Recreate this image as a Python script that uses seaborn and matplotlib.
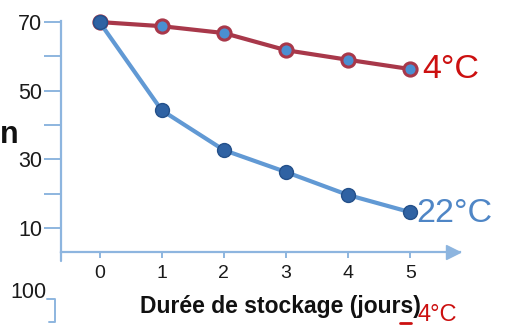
import matplotlib
matplotlib.use("Agg")
import matplotlib.pyplot as plt
import seaborn as sns
import pandas as pd
from matplotlib.lines import Line2D

# ---- data ----
days = [0, 1, 2, 3, 4, 5]
temp_4c = [70.0, 68.8, 66.8, 61.8, 59.0, 56.3]
temp_22c = [70.0, 44.3, 32.7, 26.3, 19.6, 14.6]
xtick_labels = ["0", "1", "2", "3", "4", "5"]
ytick_major = [10, 30, 50, 70]
ytick_minor = [20, 40, 60]
xlabel = "Durée de stockage (jours)"
label_4c = "4°C"
label_22c = "22°C"

sns.set_theme(style="white")
plt.rcParams["font.family"] = ["Liberation Sans", "DejaVu Sans"]

W, H = 509, 325
fig = plt.figure(figsize=(W / 100, H / 100), dpi=100)
left, right, top, bottom = 61, 460, 20, 252
ax = fig.add_axes([left / W, 1 - bottom / H, (right - left) / W, (bottom - top) / H])

axis_col = "#8db5df"
red_line = "#a8384a"
red_face = "#4a8fd2"
blue_line = "#6199d4"
blue_face = "#2f62a3"
blue_edge = "#24508a"

df_r = pd.DataFrame({"day": days, "val": temp_4c})
df_b = pd.DataFrame({"day": days, "val": temp_22c})

sns.lineplot(data=df_b, x="day", y="val", ax=ax, color=blue_line, lw=3.0,
             marker="o", markersize=10, markerfacecolor=blue_face,
             markeredgecolor=blue_edge, markeredgewidth=1.0, zorder=3,
             clip_on=False)
sns.lineplot(data=df_r, x="day", y="val", ax=ax, color=red_line, lw=3.0,
             marker="o", markersize=9.5, markerfacecolor=red_face,
             markeredgecolor=red_line, markeredgewidth=2.2, zorder=2,
             clip_on=False)
ax.lines[0].set_zorder(4)

ax.set_xlim(-0.62, 5.8)
ax.set_ylim(3, 70.6)

for s in ["top", "right"]:
    ax.spines[s].set_visible(False)
for s in ["left", "bottom"]:
    ax.spines[s].set_color(axis_col)
    ax.spines[s].set_linewidth(1.6)
ax.spines["left"].set_bounds(3, 70.3)

ax.set_xticks(days)
ax.set_xticklabels(xtick_labels)
ax.set_yticks(ytick_major)
ax.set_yticklabels([str(v) for v in ytick_major])
ax.set_yticks(ytick_minor, minor=True)
ax.tick_params(axis="y", which="both", length=12.5, width=1.4, color=axis_col,
               direction="out", left=True, labelsize=15.5, pad=1, labelcolor="#1a1a1a")
ax.tick_params(axis="x", which="major", length=4.5, width=1.4, color=axis_col,
               direction="out", bottom=True, labelsize=14, pad=5, labelcolor="#1a1a1a")
ax.set_xlabel(xlabel, fontsize=16.5, fontweight="bold", color="#111111")
ax.xaxis.set_label_coords(0.55, -0.185)
ax.set_ylabel("")
ax.grid(False)

# arrow head on x axis
ax.plot([0.982], [0], marker=">", markersize=10, color=axis_col,
        transform=ax.transAxes, clip_on=False)
# y axis extension below x axis
ax.add_line(Line2D([0, 0], [-0.04, 0], transform=ax.transAxes,
                   color=axis_col, lw=1.6, clip_on=False))

# series labels
ax.text(5.2, temp_4c[-1], label_4c, color="#cc1010", fontsize=24.5,
        va="center", ha="left")
ax.text(5.1, temp_22c[-1] - 0.3, label_22c, color="#4f86c6", fontsize=24.5,
        va="center", ha="left")

# cut-off y-label fragment
fig.text(0 / W, 1 - 135 / H, "n", fontsize=22, fontweight="bold",
         color="#111111", ha="left", va="center")

# fragments of the chart below
fig.text(46 / W, 1 - 293 / H, "100", fontsize=15.5, color="#1a1a1a",
         ha="right", va="center")
fig.add_artist(Line2D([47 / W, 55 / W, 55 / W, 49 / W],
                      [1 - 299 / H, 1 - 299 / H, 1 - 322 / H, 1 - 322 / H],
                      color=axis_col, lw=1.4))
fig.text(417 / W, 1 - 304 / H, "4°C", fontsize=17, color="#cc1010",
         ha="left", va="top")
fig.add_artist(Line2D([400 / W, 411 / W], [1 - 323 / H, 1 - 323 / H],
                      color="#cc1010", lw=2))

fig.savefig("out.png", dpi=100)
